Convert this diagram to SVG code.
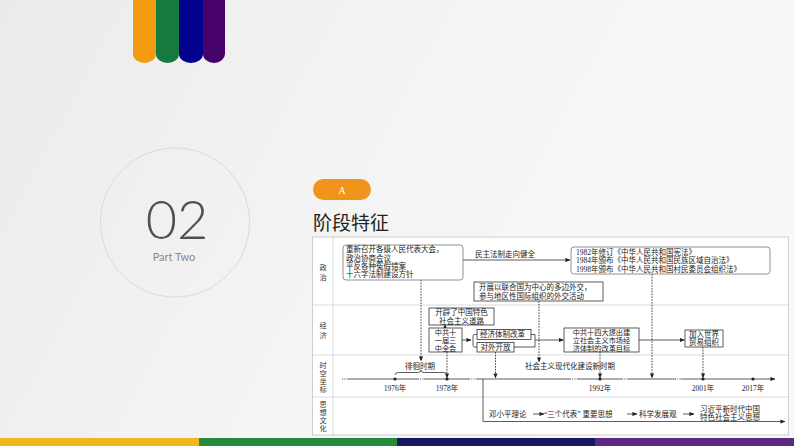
<svg xmlns="http://www.w3.org/2000/svg" width="794" height="446" viewBox="0 0 794 446">
<defs>
<linearGradient id="bg" x1="0" y1="0" x2="1" y2="0.3">
<stop offset="0" stop-color="#ebebeb"/>
<stop offset="0.6" stop-color="#f5f5f5"/>
<stop offset="1" stop-color="#f8f8f8"/>
</linearGradient>
<marker id="ar" viewBox="0 0 6 6" refX="5.5" refY="3" markerWidth="5" markerHeight="5" orient="auto" markerUnits="userSpaceOnUse">
<path d="M0,0.5 L6,3 L0,5.5 Z" fill="#222"/>
</marker>
<style>
.t{font-family:"Liberation Serif","Noto Sans CJK SC",serif;font-size:7.5px;fill:#222}
.s{font-size:7.2px}
.c{text-anchor:middle}
.lab{font-family:"Liberation Serif","Noto Sans CJK SC",serif;font-size:7.2px;fill:#333;text-anchor:middle}
.rb{fill:#fff;stroke:#777;stroke-width:0.8}
.bx{fill:#fff;stroke:#333;stroke-width:0.8}
.ln{fill:none;stroke:#333;stroke-width:0.8}
.dl{fill:none;stroke:#333;stroke-width:0.9;stroke-dasharray:1.6 1.2}
.dt{fill:none;stroke:#333;stroke-width:0.9;stroke-dasharray:1 1.3}
.grid{stroke:#cfcfcf;stroke-width:0.8}
</style>
</defs>
<rect width="794" height="446" fill="url(#bg)"/>

<g id="topbars">
<path d="M133,0 H156 V54 A11.5,9 0 0 1 133,54 Z" fill="#F39C12"/>
<path d="M156,0 H179 V54 A11.5,9 0 0 1 156,54 Z" fill="#167A3E"/>
<path d="M179,0 H203 V54 A12,9 0 0 1 179,54 Z" fill="#02028F"/>
<path d="M203,0 H225 V54 A11,9 0 0 1 203,54 Z" fill="#46016B"/>
</g>

<g id="section">
<circle cx="175" cy="222.5" r="74.5" fill="none" stroke="#dadada" stroke-width="1"/>
<text x="177" y="238.5" font-family="Lato,'Open Sans',sans-serif" font-weight="300" font-size="54" fill="#505050" text-anchor="middle">02</text>
<text x="174" y="261" font-family="Lato,'Open Sans',sans-serif" font-size="11" fill="#8a8a8a" text-anchor="middle">Part Two</text>
</g>

<g id="tag">
<rect x="313" y="179" width="58" height="21" rx="10.5" fill="#F1941C"/>
<text x="342" y="193.5" font-family="'Liberation Serif',serif" font-size="10" fill="#fff" text-anchor="middle">A</text>
</g>
<text x="313" y="230" font-family="'Noto Sans CJK SC',sans-serif" font-size="19" fill="#222">阶段特征</text>

<g id="table">
<rect x="312.5" y="237" width="476" height="198" fill="#fff" stroke="#c4c4c4" stroke-width="0.8"/>
<line class="grid" x1="333" y1="237" x2="333" y2="435"/>
<line class="grid" x1="312.5" y1="305" x2="788.5" y2="305"/>
<line class="grid" x1="312.5" y1="355" x2="788.5" y2="355"/>
<line class="grid" x1="312.5" y1="397" x2="788.5" y2="397"/>
<text class="lab" x="323" y="270">政</text>
<text class="lab" x="323" y="280">治</text>
<text class="lab" x="323" y="327.5">经</text>
<text class="lab" x="323" y="337.5">济</text>
<text class="lab" x="323" y="368">时</text>
<text class="lab" x="323" y="376">空</text>
<text class="lab" x="323" y="384">坐</text>
<text class="lab" x="323" y="392">标</text>
<text class="lab" x="323" y="407">思</text>
<text class="lab" x="323" y="415">想</text>
<text class="lab" x="323" y="423">文</text>
<text class="lab" x="323" y="431">化</text>
</g>

<g id="connectors">
<line class="ln" x1="463" y1="260" x2="570" y2="260" marker-end="url(#ar)"/>
<line class="dl" x1="421" y1="280" x2="421" y2="361" marker-end="url(#ar)"/>
<line class="dl" x1="652" y1="274" x2="652" y2="378" marker-end="url(#ar)"/>
<line class="dl" x1="539" y1="301" x2="539" y2="362" marker-end="url(#ar)"/>
<line class="ln" x1="445" y1="328" x2="445" y2="324.5" marker-end="url(#ar)"/>
<line class="dl" x1="447" y1="352" x2="447" y2="378" marker-end="url(#ar)"/>
<line class="ln" x1="462" y1="340" x2="471" y2="340" marker-end="url(#ar)"/>
<path class="ln" d="M477,334.5 H474.5 Q473,334.5 473,336 V345.5 Q473,347 474.5,347 H477"/>
<path class="ln" d="M531,334.5 H535 V347 H514"/>
<line class="ln" x1="535" y1="340" x2="563.5" y2="340" marker-end="url(#ar)"/>
<line class="dl" x1="495.5" y1="352" x2="495.5" y2="378" marker-end="url(#ar)"/>
<line class="dl" x1="600" y1="352" x2="600" y2="378" marker-end="url(#ar)"/>
<line class="ln" x1="639" y1="340" x2="684.5" y2="340" marker-end="url(#ar)"/>
<line class="dl" x1="703" y1="347" x2="703" y2="378" marker-end="url(#ar)"/>
<path class="ln" d="M395,375 Q395,372.5 398.5,372.5 H417.5 Q421,372.5 421,370 Q421,372.5 424.5,372.5 H443.5 Q447,372.5 447,375"/>
<path class="dt" d="M342,379 H348 M418,379 H424 M469,379 H476 M570,379 H577 M622,379 H628 M675,379 H681"/>
<path class="ln" d="M348,379 H418 M424,379 H469 M476,379 H570 M577,379 H622 M628,379 H675"/>
<line class="ln" x1="681" y1="379" x2="775" y2="379" marker-end="url(#ar)"/>
<path class="ln" d="M483,379 V421.5 H785" marker-end="url(#ar)"/>
<line class="ln" x1="533" y1="414" x2="544" y2="414" marker-end="url(#ar)"/>
<line class="ln" x1="627" y1="414" x2="637" y2="414" marker-end="url(#ar)"/>
<line class="ln" x1="683" y1="414" x2="694" y2="414" marker-end="url(#ar)"/>
</g>

<g id="axis-ticks" fill="#222">
<circle cx="395" cy="379" r="1.6"/>
<circle cx="447" cy="379" r="1.6"/>
<circle cx="600" cy="379" r="1.6"/>
<circle cx="703" cy="379" r="1.6"/>
<circle cx="753" cy="379" r="1.6"/>
</g>
<g id="years">
<text class="t c" x="395" y="391">1976年</text>
<text class="t c" x="447" y="391">1978年</text>
<text class="t c" x="600" y="391">1992年</text>
<text class="t c" x="703" y="391">2001年</text>
<text class="t c" x="753" y="391">2017年</text>
</g>
<g id="periods">
<text class="t" x="405" y="369">徘徊时期</text>
<text class="t" x="525" y="369">社会主义现代化建设新时期</text>
<text class="t" x="475" y="257">民主法制走向健全</text>
</g>

<g id="n-politics1">
<rect class="rb" x="343" y="245" width="120" height="35" rx="3"/>
<text class="t" x="346" y="252.3">重新召开各级人民代表大会，</text>
<text class="t" x="346" y="260.6">政治协商会议</text>
<text class="t" x="346" y="268.9">平反各种冤假错案</text>
<text class="t" x="346" y="277.2">十六字法制建设方针</text>
</g>
<g id="n-laws">
<rect class="rb" x="571" y="247" width="199" height="27" rx="3"/>
<text class="t" x="576" y="254.5">1982年修订《中华人民共和国宪法》</text>
<text class="t" x="576" y="263">1984年颁布《中华人民共和国民族区域自治法》</text>
<text class="t" x="576" y="271.5">1998年颁布《中华人民共和国村民委员会组织法》</text>
</g>
<g id="n-diplomacy">
<rect class="bx" x="474" y="282" width="129" height="19"/>
<text class="t" x="479" y="290.3">开展以联合国为中心的多边外交，</text>
<text class="t" x="479" y="298.7">参与地区性国际组织的外交活动</text>
</g>
<g id="n-road">
<rect class="bx" x="429" y="308" width="65" height="17"/>
<text class="t c" x="461.5" y="315.2">开辟了中国特色</text>
<text class="t c" x="461.5" y="323.5">社会主义道路</text>
</g>
<g id="n-plenum">
<rect class="bx" x="429" y="328" width="33" height="24"/>
<text class="t s c" x="445.5" y="334.5">中共十</text>
<text class="t s c" x="445.5" y="342.5">一届三</text>
<text class="t s c" x="445.5" y="350.5">中全会</text>
</g>
<g id="n-reform">
<rect class="bx" x="477" y="329.5" width="54" height="10"/>
<text class="t" x="480" y="337.3">经济体制改革</text>
</g>
<g id="n-open">
<rect class="bx" x="477" y="342.5" width="37" height="9.5"/>
<text class="t" x="480.5" y="350.2">对外开放</text>
</g>
<g id="n-14th">
<rect class="bx" x="564" y="328" width="75" height="24"/>
<text class="t s c" x="601.5" y="334.5">中共十四大提出建</text>
<text class="t s c" x="601.5" y="342.5">立社会主义市场经</text>
<text class="t s c" x="601.5" y="350.5">济体制的改革目标</text>
</g>
<g id="n-wto">
<rect class="bx" x="685" y="330" width="38" height="17"/>
<text class="t c" x="704" y="337">加入世界</text>
<text class="t c" x="704" y="345.3">贸易组织</text>
</g>
<g id="n-thought">
<text class="t" x="489" y="417">邓小平理论</text>
<text class="t" x="544" y="417">“三个代表” 重要思想</text>
<text class="t" x="639" y="417">科学发展观</text>
<text class="t" x="700" y="411.8">习近平新时代中国</text>
<text class="t" x="700" y="420.1">特色社会主义思想</text>
</g>

<g id="bottombars">
<rect x="0" y="438" width="199" height="8" fill="#F2B61E"/>
<rect x="199" y="438" width="198" height="8" fill="#268A3B"/>
<rect x="397" y="438" width="198" height="8" fill="#171764"/>
<rect x="595" y="438" width="199" height="8" fill="#5A2A86"/>
</g>
</svg>
